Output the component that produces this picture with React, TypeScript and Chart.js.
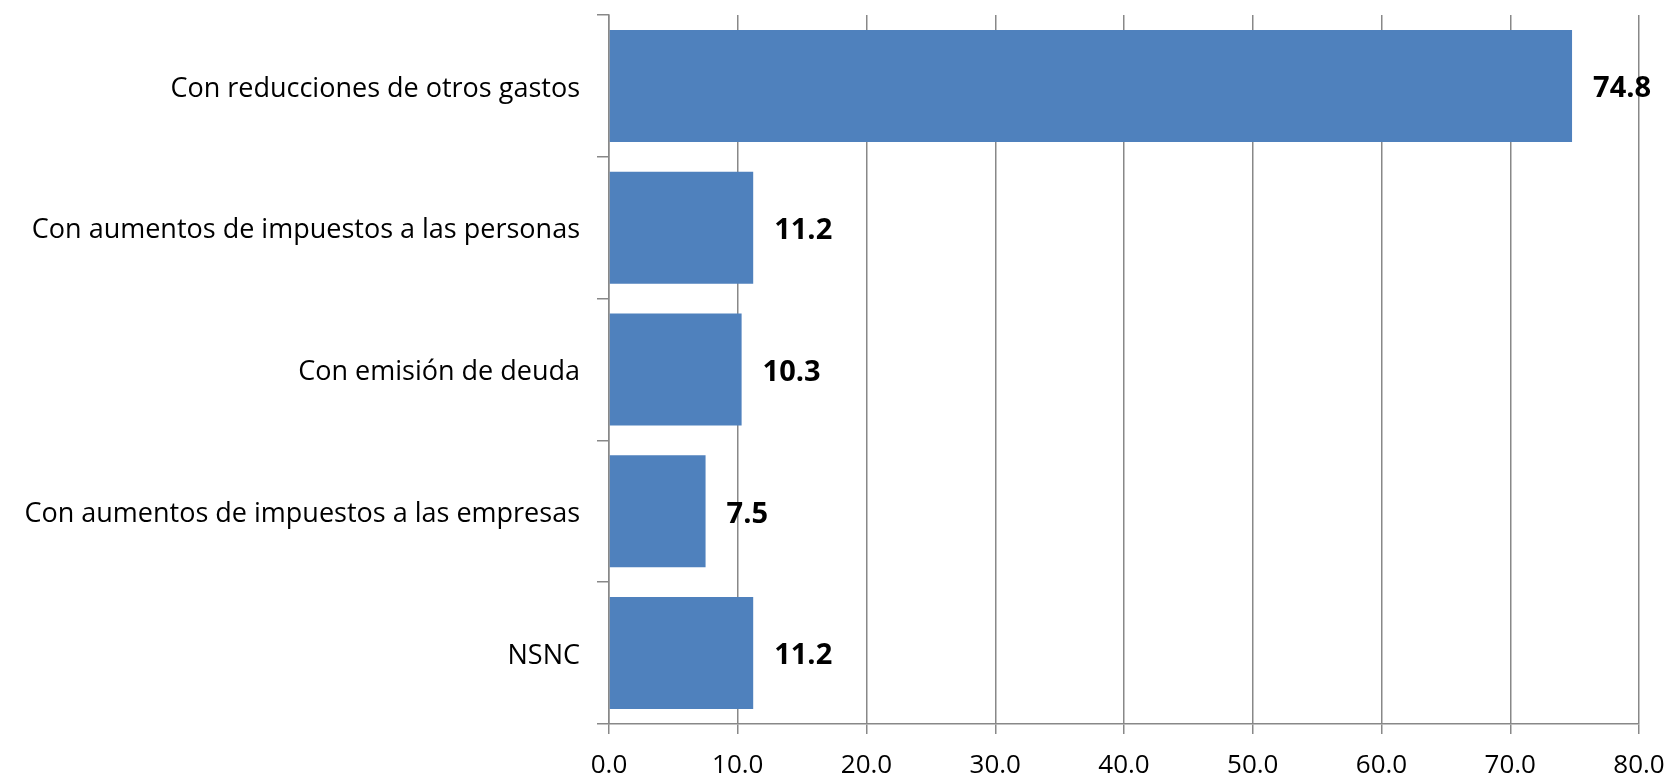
import React, { useEffect, useRef } from "react";
import { Chart, registerables } from "chart.js";

Chart.register(...registerables);

const categories = [
  "Con reducciones de otros gastos",
  "Con aumentos de impuestos a las personas",
  "Con emisión de deuda",
  "Con aumentos de impuestos a las empresas",
  "NSNC",
];
const values = [74.8, 11.2, 10.3, 7.5, 11.2];
const xMin = 0;
const xMax = 80;
const xStep = 10;

const FONT = "'Open Sans', 'Noto Sans', sans-serif";

const valueLabels = {
  id: "valueLabels",
  afterDatasetsDraw(chart: any) {
    const ctx = chart.ctx;
    const meta = chart.getDatasetMeta(0);
    ctx.save();
    ctx.font = `bold 29px ${FONT}`;
    ctx.fillStyle = "#000000";
    ctx.textAlign = "left";
    ctx.textBaseline = "middle";
    meta.data.forEach((bar: any, i: number) => {
      ctx.fillText(values[i].toFixed(1), bar.x + 21, bar.y + 3);
    });
    ctx.restore();
  },
};

export default function App() {
  const ref = useRef<HTMLCanvasElement>(null);
  useEffect(() => {
    document.body.style.margin = "0";
    const chart = new Chart(ref.current!, {
      type: "bar",
      data: {
        labels: categories,
        datasets: [
          {
            data: values,
            backgroundColor: "#4F81BD",
            borderWidth: 0,
            barPercentage: 0.79,
            categoryPercentage: 1,
          },
        ],
      },
      options: {
        indexAxis: "y",
        animation: false,
        responsive: false,
        layout: { padding: { top: 15, right: 34, left: 0, bottom: 0 } },
        plugins: { legend: { display: false }, tooltip: { enabled: false } },
        scales: {
          x: {
            min: xMin,
            max: xMax,
            ticks: {
              stepSize: xStep,
              callback: (v: any) => Number(v).toFixed(1),
              font: { family: FONT, size: 26 },
              color: "#000000",
              padding: 16,
              maxRotation: 0,
            },
            grid: { color: "#888888", lineWidth: 1.5, tickLength: 10 },
            border: { color: "#888888", width: 1.5 },
            afterFit: (s: any) => {
              s.height = 54;
              s.paddingLeft = 0;
              s.paddingRight = 0;
            },
          },
          y: {
            offset: true,
            ticks: {
              font: { family: FONT, size: 27 },
              color: "#000000",
              padding: 17,
              labelOffset: 3,
            },
            grid: {
              offset: true,
              drawOnChartArea: false,
              color: "#888888",
              lineWidth: 1.5,
              tickLength: 12,
            },
            border: { color: "#888888", width: 1.5 },
            afterFit: (s: any) => {
              s.width = 609;
              s.paddingTop = 0;
              s.paddingBottom = 0;
            },
          },
        },
      },
      plugins: [valueLabels],
    });
    return () => chart.destroy();
  }, []);
  return <canvas ref={ref} width={1673} height={778} style={{ display: "block" }} />;
}
